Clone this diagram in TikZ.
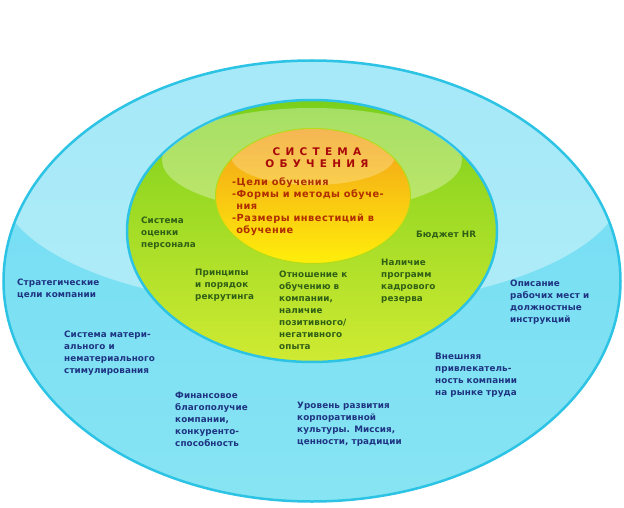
\documentclass[tikz,border=0pt]{standalone}
\usepackage{fontspec}
\setmainfont{DejaVu Sans}
\newfontfamily\ringfont{DejaVu Sans}[LetterSpace=1]
\newfontfamily\corefont{DejaVu Sans}[LetterSpace=5]
\newfontfamily\headfont{DejaVu Sans}[LetterSpace=50]
\usetikzlibrary{shapes.geometric,positioning}

\definecolor{skyedge}{RGB}{45,195,228}
\definecolor{skytop}{RGB}{112,220,244}
\definecolor{skybottom}{RGB}{135,228,243}
\definecolor{leaftop}{RGB}{122,208,28}
\definecolor{leafbottom}{RGB}{208,234,50}
\definecolor{suntop}{RGB}{242,158,26}
\definecolor{sunbottom}{RGB}{255,238,10}
\definecolor{navytext}{RGB}{30,52,130}
\definecolor{leaftext}{RGB}{48,95,22}
\definecolor{redtext}{RGB}{168,8,8}
\definecolor{rusttext}{RGB}{176,46,0}

\begin{document}
\begin{tikzpicture}[x=1pt,y=-1pt,
every node/.style={inner sep=0pt},
ring/.style={ellipse,line width=2.5pt},
outtext/.style={anchor=north west,align=left,text=navytext,
  font=\ringfont\bfseries\fontsize{8.8}{12}\selectfont},
midtext/.style={anchor=north west,align=left,text=leaftext,
  font=\ringfont\bfseries\fontsize{8.8}{12}\selectfont},
coretext/.style={anchor=north west,align=left,text=rusttext,
  font=\corefont\bfseries\fontsize{9.8}{12}\selectfont},
headtext/.style={align=center,text=redtext,
  font=\headfont\bfseries\fontsize{10.5}{12}\selectfont}]
\useasboundingbox (0,0) rectangle (624,508);

% rings
\node[ring,draw=skyedge,top color=skytop,bottom color=skybottom,
  minimum width=617,minimum height=441] (outer) at (312,281) {};
\begin{scope}
\clip (312,281) ellipse (307 and 219);
\fill[white,opacity=0.38] (312,184) ellipse (312 and 124);
\end{scope}
\node[ring,draw=skyedge,top color=leaftop,bottom color=leafbottom,
  minimum width=370,minimum height=262] (middle) at (312,231) {};
\begin{scope}
\clip (312,231) ellipse (184 and 130);
\fill[white,opacity=0.32] (312,160) ellipse (150 and 52);
\end{scope}
\node[ring,line width=1pt,draw=yellow!70!green,top color=suntop,bottom color=sunbottom,
  minimum width=195,minimum height=135] (core) at (313,196) {};
\begin{scope}
\clip (313,196) ellipse (97 and 67);
\fill[white,opacity=0.25] (313,156) ellipse (82 and 29);
\end{scope}

% centre
\node[headtext] (title) at (317,158) {СИСТЕМА\\ОБУЧЕНИЯ};
\node[coretext] (aims) at (232,178) {-Цели обучения\\-Формы и методы обуче-\\\phantom{-}ния\\-Размеры инвестиций в\\\phantom{-}обучение};

% green ring
\node[midtext] (assess) at (141,217) {Система\\оценки\\персонала};
\node[midtext] (recruit) at (195,269) {Принципы\\и порядок\\рекрутинга};
\node[midtext] (attitude) at (279,271) {Отношение к\\обучению в\\компании,\\наличие\\позитивного/\\негативного\\опыта};
\node[midtext] (reserve) at (381,259) {Наличие\\программ\\кадрового\\резерва};
\node[midtext] (budget) at (416,231) {Бюджет HR};

% blue ring
\node[outtext] (goals) at (17,279) {Стратегические\\цели компании};
\node[outtext] (motiv) at (64,331) {Система матери-\\ального и\\нематериального\\стимулирования};
\node[outtext] (finance) at (175,392) {Финансовое\\благополучие\\компании,\\конкуренто-\\способность};
\node[outtext] (culture) at (297,402) {Уровень развития\\корпоративной\\культуры. Миссия,\\ценности, традиции};
\node[outtext] (labour) at (435,353) {Внешняя\\привлекатель-\\ность компании\\на рынке труда};
\node[outtext] (jobs) at (510,280) {Описание\\рабочих мест и\\должностные\\инструкций};
\end{tikzpicture}
\end{document}
